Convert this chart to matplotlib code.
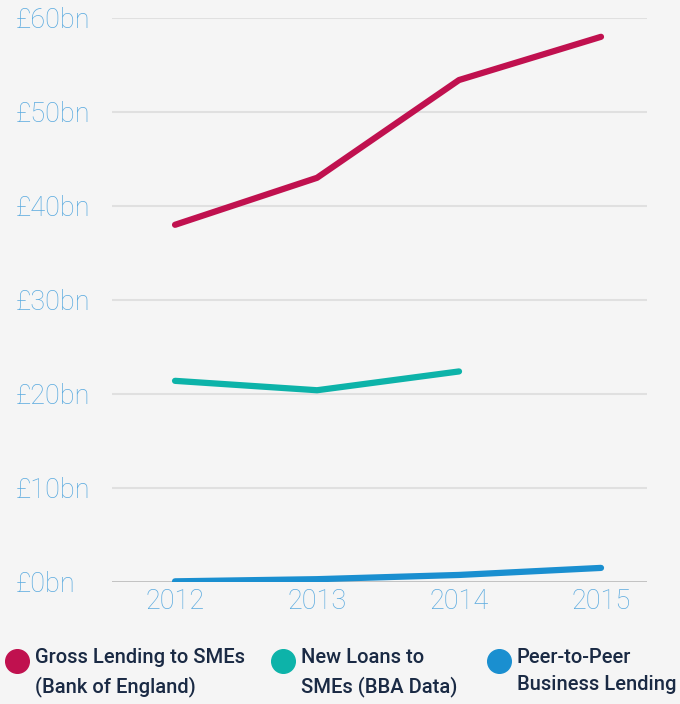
import matplotlib
matplotlib.use("Agg")
import matplotlib.pyplot as plt
from matplotlib.lines import Line2D

years = [2012, 2013, 2014, 2015]
gross_lending = [38.0, 43.0, 53.4, 58.0]
new_loans = [21.4, 20.4, 22.4]
p2p_lending = [0.07, 0.3, 0.75, 1.5]
y_ticks = [0, 10, 20, 30, 40, 50, 60]
y_labels = ["£0bn", "£10bn", "£20bn", "£30bn", "£40bn", "£50bn", "£60bn"]
series_names = ["Gross Lending to SMEs\n(Bank of England)",
                "New Loans to\nSMEs (BBA Data)",
                "Peer-to-Peer\nBusiness Lending"]
colors = ["#c0114f", "#0db3a9", "#1a8fd0"]

W, H = 680, 704
bg = "#f5f5f5"
fig = plt.figure(figsize=(W / 100, H / 100), dpi=100, facecolor=bg)
ax = fig.add_axes([112 / W, 1 - 582 / H, (647 - 112) / W, (582 - 18) / H], facecolor=bg)

for spine in ax.spines.values():
    spine.set_visible(False)

ax.set_ylim(0, 60)
ax.set_xlim(2011.556, 2015.324)
for t in y_ticks[1:]:
    ax.axhline(t, color="#e0e0e0", lw=1.5, zorder=1)
ax.axhline(0, color="#bdbdbd", lw=2, zorder=1)

ax.plot(years, gross_lending, color=colors[0], lw=4.5, solid_capstyle="round", zorder=3)
ax.plot(years[:3], new_loans, color=colors[1], lw=4.5, solid_capstyle="round", zorder=3)
ax.plot(years, p2p_lending, color=colors[2], lw=4.5, solid_capstyle="round", zorder=3)

ax.set_yticks(y_ticks)
ax.set_yticklabels(y_labels)
ax.set_xticks(years)
ax.set_xticklabels([str(y) for y in years])
ax.tick_params(axis="both", length=0, labelcolor="#5aaadf", labelsize=19.5)
ax.tick_params(axis="x", pad=4)
for lab in ax.get_yticklabels() + ax.get_xticklabels():
    lab.set_fontfamily("Roboto")
    lab.set_fontweight("light")
for lab in ax.get_yticklabels():
    lab.set_horizontalalignment("left")
    lab.set_x(-(112 - 16) / (647 - 112))
ax.tick_params(axis="y", pad=0)

# legend
leg_x = [17, 283, 499]
for x, name, c in zip(leg_x, series_names, colors):
    fig.add_artist(Line2D([x / W], [1 - 661 / H], marker="o", markersize=17,
                          color=c, transform=fig.transFigure))
    fig.text((x + 18) / W, 1 - 648 / H, name, fontsize=14.5, color="#1a2a44",
             family="Roboto", fontweight="medium", va="top", ha="left",
             linespacing=1.55)

fig.savefig("out.png", dpi=100, facecolor=bg)
